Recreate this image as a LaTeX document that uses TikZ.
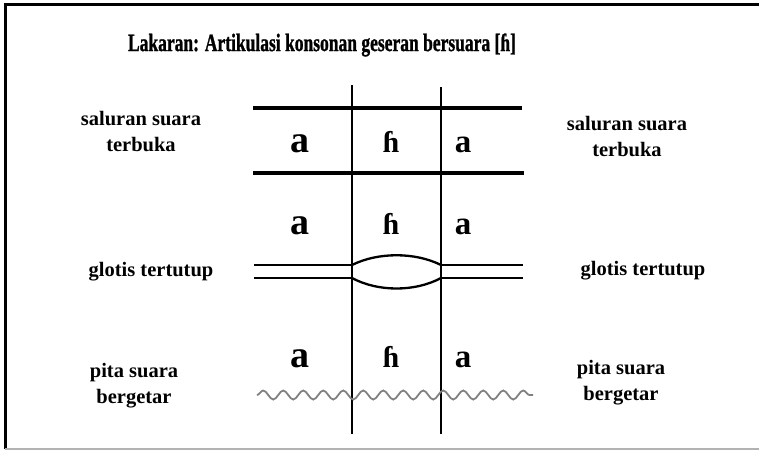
\documentclass[tikz,border=0pt]{standalone}
\usepackage{fontspec}
\setmainfont{Liberation Serif}
\newfontfamily\judulfont[FakeStretch=0.7, FakeBold=1]{Liberation Serif}
\usetikzlibrary{positioning,decorations.pathmorphing}

\begin{document}
\begin{tikzpicture}[
    x=1pt, y=-1pt,
    ket/.style={font=\bfseries\fontsize{20.5}{26}\selectfont, align=center, inner sep=0pt},
    huruf/.style={font=\bfseries\fontsize{38}{38}\selectfont, inner sep=0pt, anchor=base},
    hurufh/.style={font=\bfseries\fontsize{30}{30}\selectfont, inner sep=0pt, anchor=base},
    hurufkecil/.style={font=\bfseries\fontsize{33}{33}\selectfont, inner sep=0pt, anchor=base},
    garis/.style={line width=3.5pt},
    tiang/.style={line width=2.5pt},
    lipatan/.style={line width=2.3pt},
    getar/.style={gray, line width=1.8pt, decorate,
                  decoration={snake, segment length=20pt, amplitude=4.5pt}}
]
\useasboundingbox (0,0) rectangle (759,452);

% bingkai
\draw[line width=3pt] (759,5) -- (5,5) -- (5,449);
\draw[gray!60, line width=1.5pt] (5,449) -- (759,449);

\node[font=\judulfont\bfseries\fontsize{25}{28}\selectfont] (judul) at (322,45)
    {Lakaran: Artikulasi konsonan geseran bersuara [ɦ]};

% dua tiang pemisah bunyi
\coordinate (tiangA1) at (352,85);
\coordinate (tiangA2) at (352,434);
\coordinate (tiangB1) at (441,87);
\coordinate (tiangB2) at (441,434);
\draw[tiang] (tiangA1) -- (tiangA2);
\draw[tiang] (tiangB1) -- (tiangB2);

% saluran suara terbuka
\coordinate (salur1) at (253,108);
\coordinate (salur2) at (522,108);
\coordinate (salur3) at (253,173);
\coordinate (salur4) at (524,173);
\draw[garis] (salur1) -- (salur2);
\draw[garis] (salur3) -- (salur4);

% glotis: dua garis dan bukaan di tengah
\coordinate (glotA) at (254,265);
\coordinate (glotB) at (254,278);
\coordinate (glotC) at (523,265);
\coordinate (glotD) at (523,278);
\draw[lipatan] (glotA) -- (tiangA1 |- glotA);
\draw[lipatan] (glotB) -- (tiangA1 |- glotB);
\draw[lipatan] (tiangB1 |- glotC) -- (glotC);
\draw[lipatan] (tiangB1 |- glotD) -- (glotD);
\draw[lipatan] (tiangA1 |- glotA) .. controls (378,252) and (415,252) .. (tiangB1 |- glotC);
\draw[lipatan] (tiangA1 |- glotB) .. controls (378,292) and (415,292) .. (tiangB1 |- glotD);

% pita suara bergetar
\coordinate (getar1) at (257,395);
\coordinate (getar2) at (533,395);
\draw[getar] (getar1) -- (getar2);

% huruf bunyi
\foreach \baris/\y in {1/152, 2/234, 3/367} {
  \node[huruf]      (a\baris)  at (300,\y) {a};
  \node[hurufh]     (h\baris)  at (391,\y) {ɦ};
  \node[hurufkecil] (b\baris)  at (463,\y) {a};
}

% keterangan kiri dan kanan
\node[ket] (salurKiri)  at (141,132) {saluran suara\\terbuka};
\node[ket] (salurKanan) at (627,137) {saluran suara\\terbuka};
\node[ket] (glotKiri)   at (151,272) {glotis tertutup};
\node[ket] (glotKanan)  at (643,271) {glotis tertutup};
\node[ket] (pitaKiri)   at (134,386) {pita suara\\bergetar};
\node[ket] (pitaKanan)  at (621,383) {pita suara\\bergetar};

\end{tikzpicture}
\end{document}
